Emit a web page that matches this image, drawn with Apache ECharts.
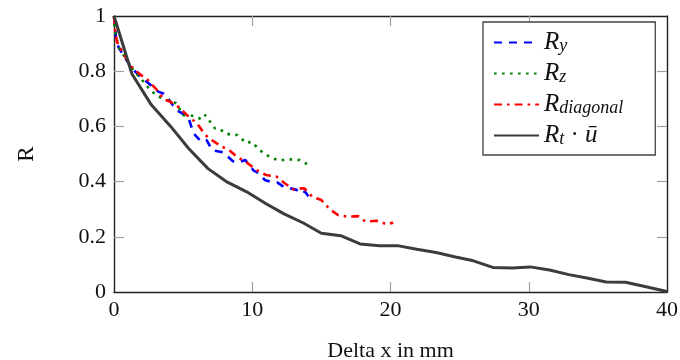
<!DOCTYPE html>
<html>
<head>
<meta charset="utf-8">
<script src="https://cdn.jsdelivr.net/npm/echarts@6/dist/echarts.min.js"></script>
<style>
  html, body { margin: 0; padding: 0; background: #fff; }
  #chart { width: 680px; height: 360px; }
</style>
</head>
<body>
<div id="chart"></div>
<script>
// R_y (dashed blue)
const ryX = [0, 0.1, 0.15, 0.35, 0.7, 1.05, 1.5, 1.9, 2.5, 3.2, 3.6, 3.95, 4.5, 5.0, 5.4, 5.75, 6.3, 6.7, 7.1, 7.9, 8.6, 9.0, 9.5, 10.1, 10.5, 10.9, 11.3, 11.8, 12.3, 12.7, 13.2, 13.7, 13.8, 14.3];
const ryR = [1, 0.95, 0.91, 0.885, 0.856, 0.829, 0.80, 0.78, 0.756, 0.726, 0.718, 0.698, 0.66, 0.645, 0.629, 0.575, 0.545, 0.55, 0.514, 0.506, 0.474, 0.47, 0.478, 0.44, 0.43, 0.406, 0.4, 0.397, 0.38, 0.376, 0.37, 0.357, 0.365, 0.33];

// R_z (dotted green)
const rzX = [0, 0.05, 0.34, 0.8, 1.4, 1.9, 2.24, 2.6, 3.2, 3.8, 4.5, 5.0, 5.5, 6.0, 6.3, 6.6, 7.3, 7.7, 8.0, 8.5, 8.9, 9.6, 9.9, 10.3, 10.8, 11.5, 12.0, 12.5, 13.0, 13.45, 14.2];
const rzR = [1, 0.947, 0.887, 0.85, 0.804, 0.775, 0.756, 0.732, 0.708, 0.696, 0.684, 0.641, 0.64, 0.635, 0.625, 0.641, 0.593, 0.59, 0.575, 0.57, 0.569, 0.539, 0.545, 0.527, 0.503, 0.484, 0.476, 0.481, 0.48, 0.478, 0.457];

// R_diagonal (dash-dotted red)
const rdX = [0, 0.05, 0.1, 0.22, 0.7, 1.2, 1.8, 2.4, 3.1, 3.6, 4.05, 4.65, 5.3, 6.0, 6.6, 7.05, 7.7, 8.4, 8.9, 9.6, 10.3, 11.0, 11.75, 12.35, 12.95, 13.75, 14.35, 15.0, 15.6, 16.2, 16.9, 17.65, 18.2, 19.0, 19.7, 20.2];
const rdR = [1, 0.97, 0.94, 0.905, 0.862, 0.82, 0.792, 0.77, 0.732, 0.698, 0.69, 0.671, 0.64, 0.611, 0.569, 0.551, 0.53, 0.511, 0.49, 0.469, 0.442, 0.424, 0.418, 0.394, 0.372, 0.376, 0.345, 0.333, 0.3, 0.279, 0.273, 0.275, 0.255, 0.258, 0.246, 0.251];

// R_t * u-bar (solid dark)
const rtX = [0, 1.3, 2.7, 4.1, 5.4, 6.8, 8.2, 9.6, 11.0, 12.3, 13.7, 15.0, 16.4, 17.8, 19.2, 20.5, 21.9, 23.3, 24.7, 26.0, 27.4, 28.8, 30.1, 31.5, 32.9, 34.3, 35.6, 37.0, 38.4, 40];
const rtR = [1, 0.79, 0.678, 0.60, 0.52, 0.447, 0.398, 0.363, 0.32, 0.283, 0.25, 0.213, 0.204, 0.174, 0.168, 0.168, 0.155, 0.143, 0.127, 0.113, 0.089, 0.087, 0.091, 0.08, 0.063, 0.05, 0.036, 0.035, 0.02, 0.002];

const xTicks = [0, 10, 20, 30, 40];
const yTicks = [0, 0.2, 0.4, 0.6, 0.8, 1];
// ticks are only drawn between the corners of the frame
const xInnerTicks = xTicks.slice(1, -1);
const yInnerTicks = yTicks.slice(1, -1);

const serif = 'Liberation Serif';
const pairs = (xs, ys) => xs.map((x, i) => [x, ys[i]]);

const legendText = {
    Ry: '{m|R}{s|y}',
    Rz: '{m|R}{s|z}',
    Rdiag: '{m|R}{s|diagonal}',
    Rt: '{m|R}{s|t}{n| · }{m|ū}'
};

const chart = echarts.init(document.getElementById('chart'));

const axisCommon = {
    type: 'value',
    splitLine: { show: false },
    axisLine: { show: true, onZero: false, lineStyle: { color: '#222', width: 1.4 } },
    axisLabel: { fontFamily: serif, fontSize: 22, color: '#111' }
};
const tickStyle = { show: true, inside: true, length: 10, lineStyle: { color: '#a0a0a0', width: 1.2 } };

chart.setOption({
    animation: false,
    grid: { left: 114, right: 13, top: 16, bottom: 68, outerBoundsMode: 'none' },
    xAxis: [
        Object.assign({}, axisCommon, {
            position: 'bottom',
            min: xTicks[0], max: xTicks[xTicks.length - 1], interval: 10,
            name: 'Delta x in mm', nameLocation: 'middle', nameGap: 48,
            nameTextStyle: { fontFamily: serif, fontSize: 22, color: '#111' },
            axisTick: Object.assign({ customValues: xInnerTicks }, tickStyle),
            axisLabel: Object.assign({}, axisCommon.axisLabel, { margin: 7 })
        }),
        Object.assign({}, axisCommon, {
            position: 'top',
            min: xTicks[0], max: xTicks[xTicks.length - 1], interval: 10,
            axisTick: Object.assign({ customValues: xInnerTicks }, tickStyle),
            axisLabel: { show: false }
        })
    ],
    yAxis: [
        Object.assign({}, axisCommon, {
            position: 'left',
            min: yTicks[0], max: yTicks[yTicks.length - 1], interval: 0.2,
            name: 'R', nameLocation: 'middle', nameGap: 76, nameRotate: 90,
            nameTextStyle: { fontFamily: serif, fontSize: 23, color: '#111' },
            axisTick: Object.assign({ customValues: yInnerTicks }, tickStyle),
            axisLabel: Object.assign({}, axisCommon.axisLabel, { margin: 8 })
        }),
        Object.assign({}, axisCommon, {
            position: 'right',
            min: yTicks[0], max: yTicks[yTicks.length - 1], interval: 0.2,
            axisTick: Object.assign({ customValues: yInnerTicks }, tickStyle),
            axisLabel: { show: false }
        })
    ],
    legend: {
        orient: 'vertical',
        left: 483,
        top: 22,
        padding: [8, 32, 7, 10],
        itemGap: 6,
        itemWidth: 45,
        itemHeight: 14,
        backgroundColor: '#fff',
        borderColor: '#444',
        borderWidth: 1.3,
        selectedMode: false,
        itemStyle: { opacity: 0 },
        formatter: (name) => legendText[name],
        textStyle: {
            color: '#111',
            rich: {
                m: { fontFamily: serif, fontStyle: 'italic', fontSize: 25, lineHeight: 25, color: '#111' },
                s: { fontFamily: serif, fontStyle: 'italic', fontSize: 18, lineHeight: 2, verticalAlign: 'bottom', color: '#111' },
                n: { fontFamily: serif, fontSize: 25, lineHeight: 25, color: '#111' }
            }
        },
        data: ['Ry', 'Rz', 'Rdiag', 'Rt']
    },
    series: [
        {
            name: 'Ry', type: 'line', symbol: 'none', data: pairs(ryX, ryR),
            lineStyle: { color: '#0000ff', width: 2.6, type: [8, 7] },
            itemStyle: { color: '#0000ff' }
        },
        {
            name: 'Rz', type: 'line', symbol: 'none', data: pairs(rzX, rzR),
            lineStyle: { color: '#008000', width: 2.6, type: [2.6, 5.4] },
            itemStyle: { color: '#008000' }
        },
        {
            name: 'Rdiag', type: 'line', symbol: 'none', data: pairs(rdX, rdR),
            lineStyle: { color: '#ff0000', width: 2.6, type: [8, 5, 2.6, 5] },
            itemStyle: { color: '#ff0000' }
        },
        {
            name: 'Rt', type: 'line', symbol: 'none', data: pairs(rtX, rtR),
            lineStyle: { color: '#3c3c3c', width: 3 },
            itemStyle: { color: '#3c3c3c' }
        }
    ]
});
</script>
</body>
</html>
